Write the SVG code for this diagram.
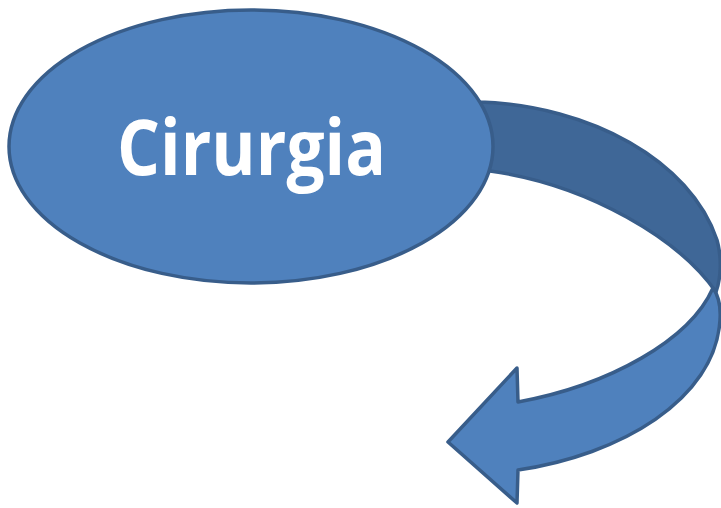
<svg xmlns="http://www.w3.org/2000/svg" width="721" height="508" viewBox="0 0 721 508">
<style>
.shape{stroke:#385D8A;stroke-width:3.5;stroke-linejoin:round}
.front{fill:#4F81BD}
.back{fill:#3F6797}
.label{font-family:"Open Sans","Liberation Sans",sans-serif;font-weight:bold;font-size:77px;fill:#FFFFFF}
</style>
<g id="connectors">
<path id="arrow-back" class="shape back" d="M 465,100 L 480,102 C 590,106 690,160 717,240 C 722,258 721,278 716,292 C 680,240 590,185 490,171 L 465,168 Z"/>
</g>
<g id="node-cirurgia">
<ellipse class="shape front" cx="251" cy="146.5" rx="242" ry="136.5"/>
<text class="label" x="251.5" y="175" text-anchor="middle" textLength="269" lengthAdjust="spacingAndGlyphs">Cirurgia</text>
</g>
<g id="connectors-front">
<path id="arrow-front" class="shape front" d="M 713,288 C 690,340 610,385 518,402 L 517,368 L 448,442 L 517,503 L 518,470 C 620,455 715,400 720,320 C 721,305 718,295 713,288 Z"/>
</g>
</svg>
